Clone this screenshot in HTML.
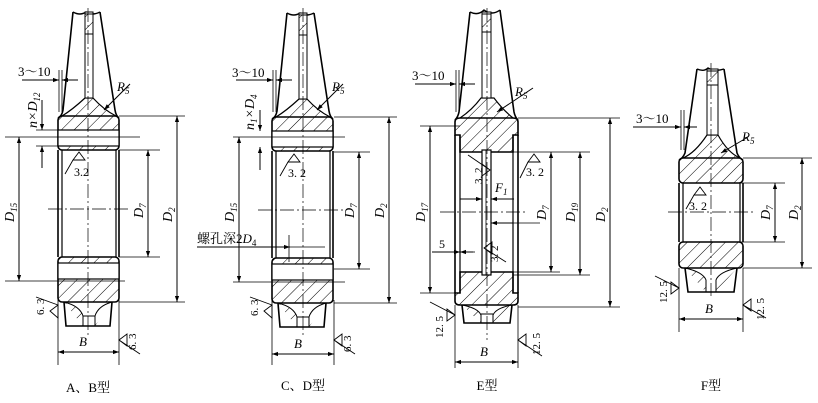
<!DOCTYPE html>
<html><head><meta charset="utf-8"><style>
html,body{margin:0;padding:0;background:#fff}
svg{display:block}
text{font-family:"Liberation Serif","Noto Serif CJK SC",serif;fill:#000}
.i{font-style:italic}
</style></head><body>
<svg width="818" height="403" viewBox="0 0 818 403" xmlns="http://www.w3.org/2000/svg">
<defs>
<pattern id="h" width="9" height="9" patternUnits="userSpaceOnUse" patternTransform="rotate(45)">
<line x1="0" y1="0" x2="0" y2="9" stroke="#000" stroke-width="1"/></pattern>
<marker id="a" viewBox="0 0 10 10" refX="10" refY="5" markerWidth="9" markerHeight="6" orient="auto-start-reverse" markerUnits="userSpaceOnUse"><path d="M0,1.5 L10,5 L0,8.5 z" fill="#000"/></marker>
</defs>
<g stroke="#000" fill="none" stroke-width="1">

<!-- ===== A,B ===== -->
<g id="ab">
<path d="M73,12 L63,110 Q62,116 58,118 M100,12 L115,110 Q116,116 119,118" stroke-width="1.6"/>
<path d="M73,12 Q80,16 86,12 Q92,16 100,12" stroke-width="1.4"/>
<rect x="58" y="116" width="61" height="34" rx="4" fill="url(#h)" stroke-width="1.6"/>
<rect x="58" y="257" width="61" height="45" rx="4" fill="url(#h)" stroke-width="1.6"/>
<path d="M62,116 Q72,110 85,98 L93,98 Q104,110 116,116" fill="url(#h)" stroke-width="1.2"/>
<rect x="58" y="130" width="61" height="16" fill="#fff" stroke-width="1.2"/>
<rect x="58" y="263" width="61" height="16" fill="#fff" stroke-width="1.2"/>
<line x1="58" y1="150" x2="58" y2="257" stroke-width="1.6"/>
<line x1="119" y1="150" x2="119" y2="257" stroke-width="1.6"/>
<line x1="62" y1="150" x2="62" y2="257" stroke-width="1.2"/>
<line x1="116" y1="150" x2="116" y2="257" stroke-width="1.2"/>
<rect x="85" y="12" width="8" height="86" fill="#fff"/>
<rect x="85" y="14" width="8" height="20" fill="url(#h)"/>
<path d="M64,302 L66,326 L110,326 L112,302" stroke-width="1.6"/>
<path d="M64,302 Q80,306 83,316 L83,326 M112,302 Q98,306 95,316 L95,326" fill="url(#h)"/>
<line x1="83" y1="316" x2="95" y2="316"/>
</g>
<use href="#ab" transform="translate(214,1)"/>
<!-- AB annotations -->
<line x1="88" y1="8" x2="88" y2="335" stroke-dasharray="14,3,2,3" stroke-width="0.7"/>
<line x1="48" y1="209" x2="128" y2="209" stroke-dasharray="14,3,2,3" stroke-width="0.7"/>
<line x1="5" y1="137" x2="140" y2="137" stroke-width="0.8"/>
<line x1="5" y1="281" x2="125" y2="281" stroke-width="0.8"/>
<line x1="119" y1="116" x2="185" y2="116" stroke-width="0.8"/>
<line x1="119" y1="302" x2="185" y2="302" stroke-width="0.8"/>
<line x1="119" y1="150" x2="160" y2="150" stroke-width="0.8"/>
<line x1="119" y1="257" x2="160" y2="257" stroke-width="0.8"/>
<line x1="19" y1="137" x2="19" y2="281" marker-start="url(#a)" marker-end="url(#a)"/>
<line x1="148" y1="150" x2="148" y2="257" marker-start="url(#a)" marker-end="url(#a)"/>
<line x1="177" y1="116" x2="177" y2="302" marker-start="url(#a)" marker-end="url(#a)"/>
<line x1="58" y1="300" x2="58" y2="365" stroke-width="0.8"/>
<line x1="119" y1="300" x2="119" y2="365" stroke-width="0.8"/>
<line x1="58" y1="352" x2="119" y2="352" marker-start="url(#a)" marker-end="url(#a)"/>
<line x1="59" y1="70" x2="59" y2="112" stroke-width="0.8"/><line x1="62" y1="70" x2="62" y2="112" stroke-width="0.8"/>
<line x1="22" y1="80" x2="59" y2="80" marker-end="url(#a)"/><line x1="78" y1="80" x2="62" y2="80" marker-end="url(#a)"/>
<line x1="42" y1="100" x2="42" y2="130" marker-end="url(#a)"/><line x1="42" y1="168" x2="42" y2="146" marker-end="url(#a)"/>
<line x1="36" y1="130" x2="60" y2="130" stroke-width="0.8"/><line x1="36" y1="146" x2="60" y2="146" stroke-width="0.8"/>
<line x1="130" y1="84" x2="104" y2="110" marker-end="url(#a)"/>
<path d="M73,160 L79,152 L85,160 Z M73,160 L65,174" stroke-width="0.9"/>
<path d="M58,305 L50,311 L58,318 Z M58,305 L36,297" stroke-width="0.9"/>
<path d="M119,340 L127,334 L127,346 Z M119,340 L140,354" stroke-width="0.9"/>

<!-- CD annotations -->
<line x1="303" y1="8" x2="303" y2="335" stroke-dasharray="14,3,2,3" stroke-width="0.7"/>
<line x1="258" y1="210" x2="345" y2="210" stroke-dasharray="14,3,2,3" stroke-width="0.7"/>
<line x1="233" y1="137" x2="345" y2="137" stroke-width="0.8"/>
<line x1="233" y1="282" x2="345" y2="282" stroke-width="0.8"/>
<line x1="334" y1="117" x2="397" y2="117" stroke-width="0.8"/>
<line x1="334" y1="303" x2="397" y2="303" stroke-width="0.8"/>
<line x1="334" y1="152" x2="370" y2="152" stroke-width="0.8"/>
<line x1="334" y1="269" x2="370" y2="269" stroke-width="0.8"/>
<line x1="239" y1="137" x2="239" y2="282" marker-start="url(#a)" marker-end="url(#a)"/>
<line x1="359" y1="152" x2="359" y2="269" marker-start="url(#a)" marker-end="url(#a)"/>
<line x1="389" y1="117" x2="389" y2="303" marker-start="url(#a)" marker-end="url(#a)"/>
<line x1="272" y1="300" x2="272" y2="365" stroke-width="0.8"/>
<line x1="334" y1="300" x2="334" y2="365" stroke-width="0.8"/>
<line x1="272" y1="354" x2="334" y2="354" marker-start="url(#a)" marker-end="url(#a)"/>
<line x1="273" y1="70" x2="273" y2="112" stroke-width="0.8"/><line x1="276" y1="70" x2="276" y2="112" stroke-width="0.8"/>
<line x1="236" y1="80" x2="273" y2="80" marker-end="url(#a)"/><line x1="292" y1="80" x2="276" y2="80" marker-end="url(#a)"/>
<line x1="260" y1="110" x2="260" y2="131" marker-end="url(#a)"/><line x1="260" y1="170" x2="260" y2="147" marker-end="url(#a)"/>
<line x1="197" y1="247" x2="290" y2="247" marker-end="url(#a)"/><line x1="290" y1="247" x2="325" y2="247" stroke-width="0.8"/>
<line x1="289" y1="235" x2="289" y2="262" stroke-width="0.8"/>
<line x1="343" y1="84" x2="317" y2="110" marker-end="url(#a)"/>
<path d="M288,162 L294,154 L300,162 Z M288,162 L280,176" stroke-width="0.9"/>
<path d="M272,305 L264,311 L272,318 Z M272,305 L250,297" stroke-width="0.9"/>
<path d="M334,340 L342,334 L342,346 Z M334,340 L355,354" stroke-width="0.9"/>

<!-- ===== E ===== -->
<path d="M470,12 L459,112 Q458,117 455,120 M500,10 L514,112 Q515,117 518,120" stroke-width="1.6"/>
<path d="M470,12 Q478,16 484,10 Q492,16 500,10" stroke-width="1.4"/>
<path d="M455,122 Q455,118 460,118 L513,118 Q518,118 518,122 L518,135 L513,135 L513,152 L460,152 L460,135 L455,135 Z" fill="url(#h)" stroke-width="1.6"/>
<path d="M460,118 Q472,110 481,98 L494,98 Q503,110 513,118" fill="url(#h)" stroke-width="1.2"/>
<path d="M455,301 Q455,305 460,305 L513,305 Q518,305 518,301 L518,293 L513,293 L513,272 L460,272 L460,293 L455,293 Z" fill="url(#h)" stroke-width="1.6"/>
<line x1="455" y1="135" x2="455" y2="293" stroke-width="1.6"/><line x1="518" y1="135" x2="518" y2="293" stroke-width="1.6"/>
<line x1="460" y1="135" x2="460" y2="293" stroke-width="1.2"/><line x1="513" y1="135" x2="513" y2="293" stroke-width="1.2"/>
<rect x="482" y="150" width="9" height="125" fill="#fff" stroke-width="1.2"/>
<line x1="486" y1="150" x2="486" y2="275" stroke-width="0.8"/>
<rect x="482" y="12" width="9" height="86" fill="#fff"/>
<rect x="482" y="14" width="9" height="18" fill="url(#h)"/>
<path d="M462,305 L464,323 L510,323 L512,305" stroke-width="1.6"/>
<path d="M462,305 Q478,308 481,315 L481,323 M512,305 Q496,308 493,315 L493,323" fill="url(#h)"/>
<line x1="481" y1="314" x2="493" y2="314"/>
<line x1="487" y1="8" x2="487" y2="340" stroke-dasharray="14,3,2,3" stroke-width="0.7"/>
<line x1="440" y1="212" x2="527" y2="212" stroke-dasharray="14,3,2,3" stroke-width="0.7"/>
<line x1="420" y1="126" x2="460" y2="126" stroke-width="0.8"/>
<line x1="420" y1="293" x2="460" y2="293" stroke-width="0.8"/>
<line x1="513" y1="152" x2="590" y2="152" stroke-width="0.8"/>
<line x1="491" y1="272" x2="560" y2="272" stroke-width="0.8"/>
<line x1="513" y1="275" x2="590" y2="275" stroke-width="0.8"/>
<line x1="518" y1="118" x2="620" y2="118" stroke-width="0.8"/>
<line x1="518" y1="307" x2="620" y2="307" stroke-width="0.8"/>
<line x1="430" y1="126" x2="430" y2="293" marker-start="url(#a)" marker-end="url(#a)"/>
<line x1="551" y1="152" x2="551" y2="272" marker-start="url(#a)" marker-end="url(#a)"/>
<line x1="580" y1="152" x2="580" y2="275" marker-start="url(#a)" marker-end="url(#a)"/>
<line x1="610" y1="118" x2="610" y2="307" marker-start="url(#a)" marker-end="url(#a)"/>
<line x1="455" y1="305" x2="455" y2="368" stroke-width="0.8"/>
<line x1="518" y1="305" x2="518" y2="368" stroke-width="0.8"/>
<line x1="455" y1="362" x2="518" y2="362" marker-start="url(#a)" marker-end="url(#a)"/>
<line x1="456" y1="70" x2="456" y2="112" stroke-width="0.8"/><line x1="459" y1="70" x2="459" y2="112" stroke-width="0.8"/>
<line x1="415" y1="84" x2="456" y2="84" marker-end="url(#a)"/><line x1="475" y1="84" x2="459" y2="84" marker-end="url(#a)"/>
<line x1="533" y1="88" x2="497" y2="112" marker-end="url(#a)"/>
<line x1="460" y1="199" x2="482" y2="199" marker-end="url(#a)"/><line x1="514" y1="199" x2="491" y2="199" marker-end="url(#a)"/>
<line x1="513" y1="223" x2="491" y2="223" marker-end="url(#a)"/><line x1="491" y1="223" x2="540" y2="223" stroke-width="0.8"/>
<line x1="432" y1="252" x2="460" y2="252" marker-end="url(#a)"/><line x1="475" y1="252" x2="460" y2="252" stroke-width="0.8"/>
<line x1="473" y1="252" x2="460" y2="252" marker-end="url(#a)"/>
<path d="M490,170 L482,164 L482,176 Z M490,170 L468,155" stroke-width="0.9"/>
<path d="M484,248 L492,242 L492,254 Z M484,248 L506,262" stroke-width="0.9"/>
<path d="M528,162 L534,154 L540,162 Z M528,162 L520,178" stroke-width="0.9"/>
<path d="M455,315 L447,309 L447,321 Z M455,315 L430,302" stroke-width="0.9"/>
<path d="M518,340 L526,334 L526,346 Z M518,340 L542,356" stroke-width="0.9"/>

<!-- ===== F ===== -->
<path d="M697,69 L685,153 Q683,158 679,160 M724,69 L737,153 Q739,158 743,160" stroke-width="1.6"/>
<path d="M697,69 Q704,72 708,68 Q715,72 724,69" stroke-width="1.4"/>
<rect x="679" y="158" width="64" height="25" rx="4" fill="url(#h)" stroke-width="1.6"/>
<rect x="679" y="242" width="64" height="26" rx="4" fill="url(#h)" stroke-width="1.6"/>
<path d="M683,158 Q695,153 707,135 L718,135 Q728,153 740,158" fill="url(#h)" stroke-width="1.2"/>
<line x1="679" y1="183" x2="679" y2="242" stroke-width="1.6"/><line x1="743" y1="183" x2="743" y2="242" stroke-width="1.6"/>
<line x1="683" y1="183" x2="683" y2="242" stroke-width="1.2"/><line x1="740" y1="183" x2="740" y2="242" stroke-width="1.2"/>
<rect x="707" y="69" width="11" height="66" fill="#fff"/>
<rect x="707" y="71" width="11" height="14" fill="url(#h)"/>
<path d="M685,268 L688,292 L734,292 L737,268" stroke-width="1.6"/>
<path d="M685,268 Q703,272 706,280 L706,292 M737,268 Q719,272 716,280 L716,292" fill="url(#h)"/>
<line x1="711" y1="63" x2="711" y2="296" stroke-dasharray="14,3,2,3" stroke-width="0.7"/>
<line x1="668" y1="212" x2="755" y2="212" stroke-dasharray="14,3,2,3" stroke-width="0.7"/>
<line x1="743" y1="158" x2="812" y2="158" stroke-width="0.8"/>
<line x1="743" y1="268" x2="812" y2="268" stroke-width="0.8"/>
<line x1="740" y1="183" x2="785" y2="183" stroke-width="0.8"/>
<line x1="740" y1="242" x2="785" y2="242" stroke-width="0.8"/>
<line x1="775" y1="183" x2="775" y2="242" marker-start="url(#a)" marker-end="url(#a)"/>
<line x1="802" y1="158" x2="802" y2="268" marker-start="url(#a)" marker-end="url(#a)"/>
<line x1="679" y1="268" x2="679" y2="332" stroke-width="0.8"/>
<line x1="743" y1="268" x2="743" y2="332" stroke-width="0.8"/>
<line x1="679" y1="319" x2="743" y2="319" marker-start="url(#a)" marker-end="url(#a)"/>
<line x1="681" y1="110" x2="681" y2="150" stroke-width="0.8"/><line x1="684" y1="110" x2="684" y2="150" stroke-width="0.8"/>
<line x1="633" y1="127" x2="681" y2="127" marker-end="url(#a)"/><line x1="697" y1="127" x2="684" y2="127" marker-end="url(#a)"/>
<line x1="748" y1="137" x2="721" y2="153" marker-end="url(#a)"/>
<path d="M694,195 L700,187 L706,195 Z M694,195 L686,209" stroke-width="0.9"/>
<path d="M679,288 L671,282 L671,294 Z M679,288 L655,276" stroke-width="0.9"/>
<path d="M743,305 L751,299 L751,311 Z M743,305 L766,318" stroke-width="0.9"/>
</g>

<!-- text -->
<g font-size="13">
<text x="18" y="76">3～10</text>
<text x="232" y="77">3～10</text>
<text x="412" y="80">3～10</text>
<text x="636" y="123">3～10</text>
<text class="i" x="117" y="91">R<tspan font-size="9" dy="3">5</tspan></text>
<text class="i" x="332" y="91">R<tspan font-size="9" dy="3">5</tspan></text>
<text class="i" x="515" y="96">R<tspan font-size="9" dy="3">5</tspan></text>
<text class="i" x="742" y="141">R<tspan font-size="9" dy="3">5</tspan></text>
<text class="i" x="79" y="346">B</text>
<text class="i" x="294" y="348">B</text>
<text class="i" x="480" y="356">B</text>
<text class="i" x="705" y="313">B</text>
<text x="74" y="176" font-size="12">3.2</text>
<text x="288" y="177" font-size="12">3. 2</text>
<text x="526" y="176" font-size="12">3. 2</text>
<text x="689" y="210" font-size="12">3. 2</text>
<text class="i" x="495" y="192">F<tspan font-size="9" dy="3">1</tspan></text>
<text x="439" y="248" font-size="12">5</text>
<text x="197" y="243" font-family="Liberation Serif,'Noto Serif CJK SC',serif">螺孔深2<tspan class="i">D</tspan><tspan font-size="9" dy="3">4</tspan></text>
<g font-size="14" class="i">
<text transform="translate(14,222) rotate(-90)">D<tspan font-size="9" dy="3">15</tspan></text>
<text transform="translate(143,218) rotate(-90)">D<tspan font-size="9" dy="3">7</tspan></text>
<text transform="translate(172,222) rotate(-90)">D<tspan font-size="9" dy="3">2</tspan></text>
<text transform="translate(234,222) rotate(-90)">D<tspan font-size="9" dy="3">15</tspan></text>
<text transform="translate(354,218) rotate(-90)">D<tspan font-size="9" dy="3">7</tspan></text>
<text transform="translate(384,218) rotate(-90)">D<tspan font-size="9" dy="3">2</tspan></text>
<text transform="translate(425,222) rotate(-90)">D<tspan font-size="9" dy="3">17</tspan></text>
<text transform="translate(546,220) rotate(-90)">D<tspan font-size="9" dy="3">7</tspan></text>
<text transform="translate(575,222) rotate(-90)">D<tspan font-size="9" dy="3">19</tspan></text>
<text transform="translate(605,222) rotate(-90)">D<tspan font-size="9" dy="3">2</tspan></text>
<text transform="translate(770,220) rotate(-90)">D<tspan font-size="9" dy="3">7</tspan></text>
<text transform="translate(798,220) rotate(-90)">D<tspan font-size="9" dy="3">2</tspan></text>
<text transform="translate(37,128) rotate(-90)">n×D<tspan font-size="9" dy="3">12</tspan></text>
<text transform="translate(254,130) rotate(-90)">n<tspan font-size="9" dy="3">1</tspan><tspan dy="-3">×D</tspan><tspan font-size="9" dy="3">4</tspan></text>
</g>
<g font-size="11">
<text transform="translate(44,315) rotate(-90)">6. 3</text>
<text transform="translate(258,316) rotate(-90)">6. 3</text>
<text transform="translate(136,350) rotate(-90)">6. 3</text>
<text transform="translate(351,352) rotate(-90)">6. 3</text>
<text transform="translate(443,338) rotate(-90)">12. 5</text>
<text transform="translate(540,355) rotate(-90)">12. 5</text>
<text transform="translate(667,303) rotate(-90)">12. 5</text>
<text transform="translate(764,320) rotate(-90)">12. 5</text>
<text transform="translate(482,184) rotate(-90)">3. 2</text>
<text transform="translate(498,262) rotate(-90)">3. 2</text>
</g>
<text x="88" y="392" text-anchor="middle" font-family="Liberation Sans,'Noto Sans CJK SC',sans-serif">A、B型</text>
<text x="303" y="390" text-anchor="middle" font-family="Liberation Sans,'Noto Sans CJK SC',sans-serif">C、D型</text>
<text x="487" y="390" text-anchor="middle" font-family="Liberation Sans,'Noto Sans CJK SC',sans-serif">E型</text>
<text x="711" y="390" text-anchor="middle" font-family="Liberation Sans,'Noto Sans CJK SC',sans-serif">F型</text>
</g>
</svg>
</body></html>
